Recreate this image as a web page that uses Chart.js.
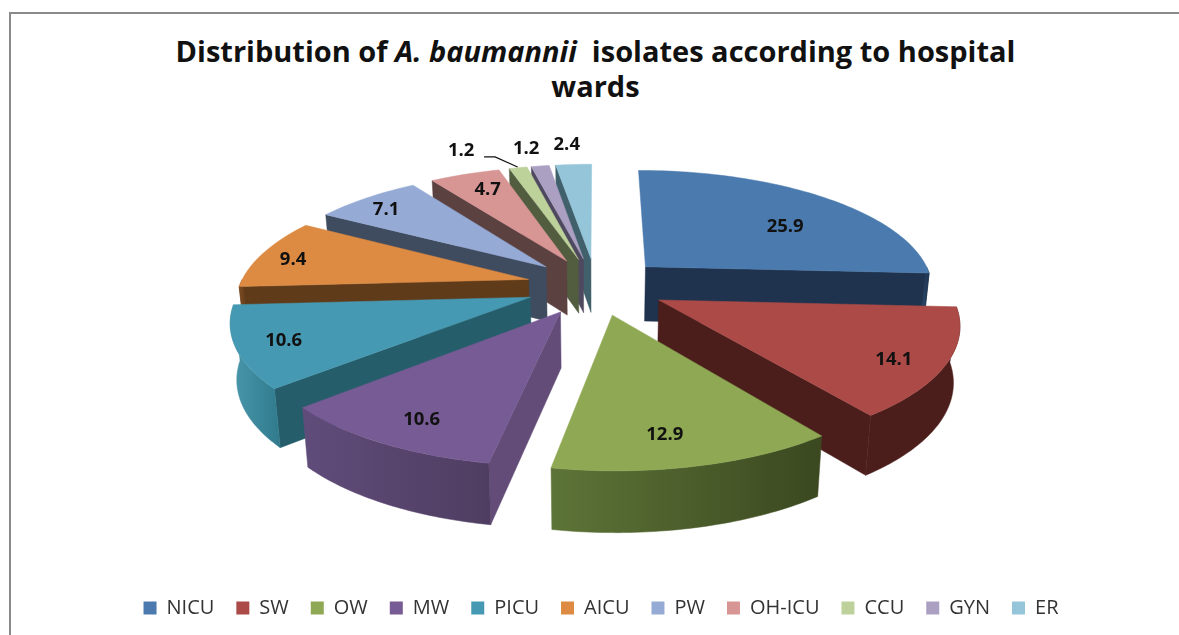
<!DOCTYPE html>
<html>
<head>
<meta charset="utf-8">
<style>
html,body{margin:0;padding:0;background:#fff;width:1179px;height:635px;overflow:hidden}
#frame{position:absolute;left:9px;top:12px;width:1170px;height:623px;border-left:2px solid #8a8a8a;border-top:2px solid #8a8a8a;box-sizing:border-box}
#title{position:absolute;left:0;top:33px;width:1191px;text-align:center;font:700 29px/35px "Open Sans",sans-serif;color:#111;white-space:pre}
canvas{position:absolute;left:0;top:0}
</style>
</head>
<body>
<div id="frame"></div>
<div id="title">Distribution of <i>A. baumannii</i>  isolates according to hospital
wards</div>
<canvas id="c" width="1179" height="635"></canvas>
<script src="https://cdn.jsdelivr.net/npm/chart.js@4"></script>
<script>
const categories = ['NICU','SW','OW','MW','PICU','AICU','PW','OH-ICU','CCU','GYN','ER'];
const values = [25.9,14.1,12.9,10.6,10.6,9.4,7.1,4.7,1.2,1.2,2.4];
const topColors = ['#4a7aae','#ab4a47','#8ea854','#775b94','#4699b2','#dd8a42','#95abd5','#d79594','#bdd19b','#ab9fc2','#94c5d9'];
const faceColors = ['#1f334e','#4b1e1c','#3f4c22','#634d78','#265d6b','#5f3b1a','#3f4b5f','#5c4141','#525d40','#4f4960','#40606b'];
const wallLeft = ['#2c4a70','#4b1e1c','#5d7437','#604c7a','#4a98ad','#7a4a22','#5f6f8c','#8a5f5e','#6f7f55','#6d6584','#5f8a99'];
const wallRight = ['#1f334e','#4b1e1c','#3b4820','#4f3d61','#307a8c','#5f3b1a','#3f4b5f','#5c4141','#525d40','#4f4960','#40606b'];
const labelRadius = [0.74,0.8,0.74,0.74,0.82,0.74,0.72,0.72,1.3,1.25,1.2];
const labelNudge = [[4,13],[9,9],[-7,14],[-12,15],[-8,3],[-37,0],[-27,-6],[-3,-7],[-42,6],[-5,2],[-4,-4]];

const view = {cx:596, cy:286, yScale:0.41, persp:0.168, depth:55, taper:0.982};
const project = (x,y,R) => {
  const w = 1 - view.persp*y/R;
  return {x: view.cx + x/w, y: view.cy + view.yScale*y/w, w};
};
const lower = p => ({x: view.cx + (p.x-view.cx)*view.taper, y: p.y + view.depth/Math.sqrt(p.w)});

const pie3d = {
  id:'pie3d',
  beforeDatasetDraw(chart,args){
    const ctx = chart.ctx;
    const arcs = chart.getDatasetMeta(args.index).data;
    const geo = arcs.map((a,i)=>{
      const s=a.startAngle,e=a.endAngle,m=(s+e)/2,R=a.outerRadius,o=a.options.offset||0;
      return {i,s,e,m,R,ox:o*Math.cos(m),oy:o*Math.sin(m)};
    });
    const pt=(g,ang,r)=>project(g.ox+r*Math.cos(ang),g.oy+r*Math.sin(ang),g.R);
    const order=[...geo].sort((a,b)=>(a.oy+a.R*0.6*Math.sin(a.m))-(b.oy+b.R*0.6*Math.sin(b.m)));
    const poly=(pts,fill)=>{ctx.beginPath();pts.forEach((p,k)=>k?ctx.lineTo(p.x,p.y):ctx.moveTo(p.x,p.y));ctx.closePath();ctx.fillStyle=fill;ctx.fill();ctx.strokeStyle=fill;ctx.lineWidth=0.5;ctx.stroke();};
    const face=(g,ang)=>{const a=pt(g,0,0),b=pt(g,ang,g.R);poly([a,b,lower(b),lower(a)],faceColors[g.i]);};
    order.forEach(g=>{
      if(Math.cos(g.s)<0) face(g,g.s);
      if(Math.cos(g.e)>0) face(g,g.e);
      const a0=Math.max(g.s,0),a1=Math.min(g.e,Math.PI);
      if(a1>a0){
        const tops=[];
        for(let k=0;k<=48;k++) tops.push(pt(g,a0+(a1-a0)*k/48,g.R));
        const pts=tops.concat(tops.map(lower).reverse());
        const xs=pts.map(p=>p.x);
        const grad=ctx.createLinearGradient(Math.min(...xs),0,Math.max(...xs),0);
        grad.addColorStop(0,wallLeft[g.i]);grad.addColorStop(1,wallRight[g.i]);
        poly(pts,grad);
      }
      const rim=[pt(g,0,0)];
      const n=Math.max(8,Math.ceil((g.e-g.s)*40));
      for(let k=0;k<=n;k++) rim.push(pt(g,g.s+(g.e-g.s)*k/n,g.R));
      poly(rim,topColors[g.i]);
    });
    ctx.save();
    ctx.font='700 18.5px "Open Sans",sans-serif';
    ctx.fillStyle='#111';ctx.textAlign='center';ctx.textBaseline='middle';
    geo.forEach(g=>{
      const p=pt(g,g.m,g.R*labelRadius[g.i]);
      const n=labelNudge[g.i];
      const lx=p.x+n[0],ly=p.y+n[1];
      ctx.fillText(values[g.i].toFixed(1),lx,ly);
      if(categories[g.i]==='CCU'){
        const tip=pt(g,g.m,g.R*1.01);
        ctx.beginPath();ctx.moveTo(lx+23,ly+6);ctx.lineTo(lx+34,ly+6);ctx.lineTo(tip.x,tip.y);
        ctx.strokeStyle='#111';ctx.lineWidth=1.2;ctx.stroke();
      }
    });
    ctx.restore();
    return false;
  }
};

new Chart(document.getElementById('c'),{
  type:'pie',
  data:{labels:categories,datasets:[{data:values,backgroundColor:topColors,borderWidth:0,offset:70}]},
  options:{
    responsive:false,animation:false,radius:289,
    layout:{padding:{bottom:7,left:23,right:0}},
    plugins:{
      tooltip:{enabled:false},
      legend:{position:'bottom',labels:{boxWidth:13,boxHeight:13,padding:22,color:'#333',font:{family:'"Open Sans",sans-serif',size:20}}}
    }
  },
  plugins:[pie3d]
});
</script>
</body>
</html>
